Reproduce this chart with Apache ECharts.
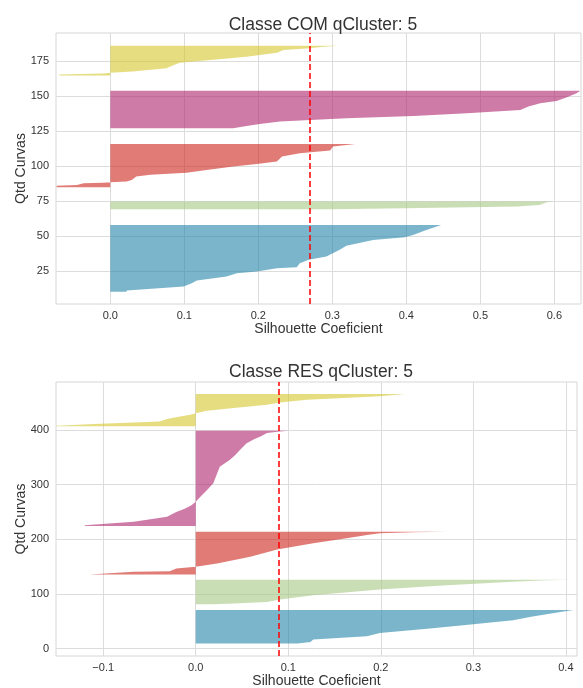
<!DOCTYPE html>
<html>
<head>
<meta charset="utf-8">
<title>Silhouette</title>
<script src="https://cdn.jsdelivr.net/npm/echarts@6.0.0/dist/echarts.min.js"></script>
<style>
  html, body { margin: 0; padding: 0; background: #fff; }
  #chart { width: 583px; height: 688px; }
</style>
</head>
<body>
<div id="chart"></div>
<script>
// silhouette profile of each cluster: [coeficiente, posicao no eixo Y]
const comBlue = [[0,10],[0.022,10],[0.022,10.9],[0.099,13.8],[0.11,16.2],[0.117,18.1],[0.157,20.9],[0.171,23.3],[0.198,24.5],[0.225,26.9],[0.252,27.6],[0.256,30.5],[0.268,32.9],[0.292,35.2],[0.31,40],[0.319,42.9],[0.355,47.1],[0.398,49],[0.409,50.7],[0.428,54.3],[0.447,57.8],[0,57.8]];
const comGreen = [[0,69],[0.3,69],[0.42,70],[0.55,71],[0.58,72],[0.59,74],[0.6,74.6],[0,74.6]];
const comRed = [[0,84.8],[-0.0725,84.8],[-0.0725,85.8],[-0.045,86.4],[-0.036,87.6],[-0.01,88],[0,88.3],[0.022,88.8],[0.029,90],[0.035,92.4],[0.054,93.6],[0.103,95.2],[0.13,97.1],[0.166,99.5],[0.198,101.4],[0.225,103.1],[0.232,106.7],[0.256,109],[0.297,111],[0.301,113.8],[0.331,115.7],[0,115.7]];
const comMagenta = [[0,127],[0.166,127],[0.184,128.6],[0.202,130],[0.229,131.7],[0.319,134],[0.41,135.7],[0.482,137.6],[0.554,140],[0.565,142.4],[0.581,144.8],[0.603,146.4],[0.617,149],[0.63,151.9],[0.635,153.8],[0,153.8]];
const comYellow = [[0,164.6],[-0.069,164.6],[-0.069,165.4],[-0.01,166],[0,166.6],[0.03,167.5],[0.076,169.8],[0.085,172],[0.094,173.8],[0.184,178],[0.225,180.9],[0.234,182.9],[0.265,184],[0.288,185.2],[0.309,185.9],[0,185.9]];

const resBlue = [[0,9.5],[0.11,9.5],[0.124,12.2],[0.127,16.5],[0.185,22.6],[0.199,28.6],[0.253,36.7],[0.289,42.8],[0.343,51.9],[0.361,58],[0.379,63],[0.394,67.2],[0.408,70.8],[0,70.8]];
const resGreen = [[0,81],[0.02,81],[0.041,82.6],[0.077,85.5],[0.091,90],[0.127,97.8],[0.199,108.3],[0.271,116.1],[0.343,122.2],[0.379,125.3],[0.408,126],[0,126]];
const resRed = [[0,135.8],[-0.115,135.8],[-0.067,140.6],[-0.028,141.8],[-0.021,146.8],[0,149.7],[0.023,155.9],[0.059,168],[0.088,181.6],[0.127,192.7],[0.163,201.8],[0.185,207.9],[0.199,211],[0.235,212.8],[0.271,213.8],[0,213.8]];
const resMagenta = [[0,224.4],[-0.12,224.4],[-0.12,226],[-0.067,232.3],[-0.031,241.5],[-0.021,250],[-0.012,256],[-0.005,262],[0,269],[0.005,278],[0.012,290],[0.019,302.8],[0.023,320],[0.026,333],[0.037,345.5],[0.043,355],[0.048,363.9],[0.055,376],[0.063,383],[0.07,388.3],[0.077,394.5],[0.091,397.4],[0.1,398.7],[0,398.7]];
const resYellow = [[0,406.8],[-0.151,406.8],[-0.151,408],[-0.103,411.6],[-0.039,415.8],[-0.031,420.2],[-0.017,425],[-0.006,428],[0,431],[0.012,435.4],[0.041,440.3],[0.077,446.4],[0.091,450.6],[0.12,455.6],[0.199,461.7],[0.226,466],[0,466]];

const comAvg = 0.266;
const resAvg = 0.0904;

const comXTicks = [0, 0.1, 0.2, 0.3, 0.4, 0.5, 0.6];
const comYTicks = [25, 50, 75, 100, 125, 150, 175];
const resXTicks = [-0.1, 0, 0.1, 0.2, 0.3, 0.4];
const resYTicks = [0, 100, 200, 300, 400];

const titles = ['Classe COM qCluster: 5', 'Classe RES qCluster: 5'];

const colors = ['rgba(33,132,170,0.6)', 'rgba(167,200,132,0.6)', 'rgba(203,35,27,0.6)', 'rgba(175,35,108,0.6)', 'rgba(212,198,43,0.6)'];
const FONT = 'Liberation Sans, Arial, sans-serif';

const chart = echarts.init(document.getElementById('chart'));

// desenha o cluster inteiro como um poligono (so no primeiro ponto)
const polygon = (points) => (params, api) => {
  if (params.dataIndex !== 0) return null;
  return {
    type: 'polygon',
    shape: { points: points.map(p => api.coord(p)) },
    style: { fill: api.visual('color') }
  };
};

const clusterSeries = (clusters, idx, avg) => clusters.map((pts, i) => {
  const s = {
    type: 'custom',
    xAxisIndex: idx,
    yAxisIndex: idx,
    clip: true,
    silent: true,
    color: colors[i],
    renderItem: polygon(pts),
    data: pts
  };
  if (i === 0) {
    s.markLine = {
      silent: true,
      symbol: 'none',
      label: { show: false },
      lineStyle: { color: '#ff0000', type: [6, 3], width: 1.5 },
      data: [{ xAxis: avg }],
      z: 10
    };
  }
  return s;
});

const fmtX = (v) => v.toFixed(1).replace('-', '\u2212');

const xAxisBase = (ticks, min, max, gridIndex, gap) => ({
  type: 'value',
  gridIndex,
  min, max,
  name: 'Silhouette Coeficient',
  nameLocation: 'middle',
  nameGap: gap,
  nameTextStyle: { fontFamily: FONT, fontSize: 14, color: '#333' },
  axisLine: { show: false },
  axisTick: { show: false, customValues: ticks },
  axisLabel: { customValues: ticks, formatter: fmtX, fontFamily: FONT, fontSize: 11, color: '#333', margin: 6 },
  splitLine: { show: true, lineStyle: { color: '#dcdcdc', width: 1 } }
});

const yAxisBase = (ticks, min, max, gridIndex) => ({
  type: 'value',
  gridIndex,
  min, max,
  name: 'Qtd Curvas',
  nameLocation: 'middle',
  nameGap: 28,
  nameMoveOverlap: false,
  nameTextStyle: { fontFamily: FONT, fontSize: 14, color: '#333' },
  axisLine: { show: false },
  axisTick: { show: false, customValues: ticks },
  axisLabel: { customValues: ticks, formatter: (v) => String(Math.round(v)), fontFamily: FONT, fontSize: 11, color: '#333', margin: 7 },
  splitLine: { show: true, lineStyle: { color: '#dcdcdc', width: 1 } }
});

const option = {
  animation: false,
  backgroundColor: '#fff',
  title: [
    { text: titles[0], left: 318, top: 11, textAlign: 'center',
      textStyle: { fontFamily: FONT, fontSize: 17.5, fontWeight: 'normal', color: '#333' } },
    { text: titles[1], left: 316, top: 358, textAlign: 'center',
      textStyle: { fontFamily: FONT, fontSize: 17.5, fontWeight: 'normal', color: '#333' } }
  ],
  grid: [
    { left: 56, top: 33, right: 2, height: 271, outerBoundsMode: 'none', show: true, borderColor: '#d6d6d6', borderWidth: 1, backgroundColor: '#fff' },
    { left: 56, top: 382, right: 6, height: 274, outerBoundsMode: 'none', show: true, borderColor: '#d6d6d6', borderWidth: 1, backgroundColor: '#fff' }
  ],
  xAxis: [
    xAxisBase(comXTicks, -0.0734, 0.636, 0, 17),
    xAxisBase(resXTicks, -0.151, 0.412, 1, 18)
  ],
  yAxis: [
    yAxisBase(comYTicks, 1.3, 195, 0),
    yAxisBase(resYTicks, -13.5, 488, 1)
  ],
  series: [
    ...clusterSeries([comBlue, comGreen, comRed, comMagenta, comYellow], 0, comAvg),
    ...clusterSeries([resBlue, resGreen, resRed, resMagenta, resYellow], 1, resAvg)
  ]
};

chart.setOption(option);
</script>
</body>
</html>
